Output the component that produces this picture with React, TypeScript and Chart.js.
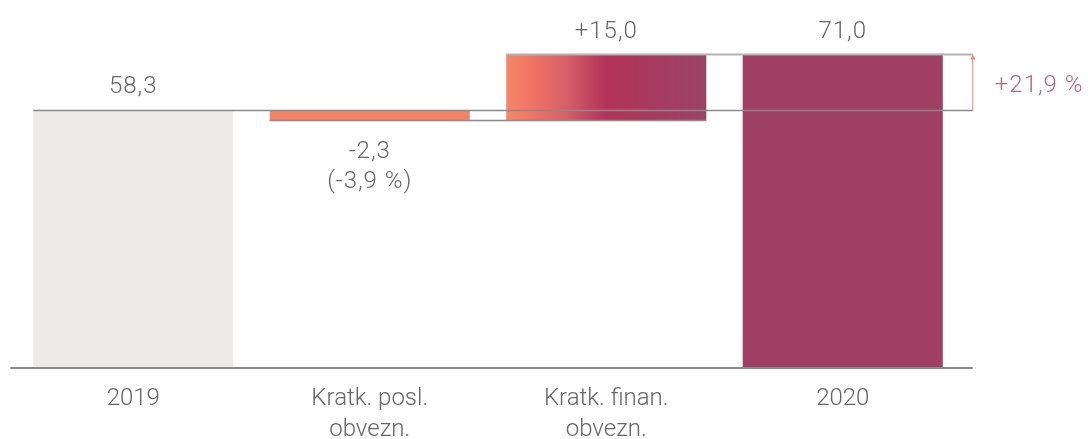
import { useEffect, useRef } from "react";
import { Chart, registerables } from "chart.js";

Chart.register(...registerables);

const categories: string[][] = [["2019"], ["Kratk. posl.", "obvezn."], ["Kratk. finan.", "obvezn."], ["2020"]];
const startValue = 58.3;
const changes = [-2.3, 15.0];
const endValue = 71.0;
const valueLabels: string[][] = [["58,3"], ["-2,3", "(-3,9 %)"], ["+15,0"], ["71,0"]];
const totalChangeLabel = "+21,9 %";
const yMin = 0;
const yMax = 80;

const BAR_PCT = 0.846;
const FAMILY = "Roboto, 'Noto Sans', sans-serif";
const FONT = "300 24px " + FAMILY;
const TEXT = "#666666";

function buildRanges(): [number, number][] {
  const out: [number, number][] = [[0, startValue]];
  let cum = startValue;
  for (const c of changes) {
    out.push([cum, cum + c]);
    cum += c;
  }
  out.push([0, endValue]);
  return out;
}

export default function App() {
  const ref = useRef<HTMLCanvasElement | null>(null);
  useEffect(() => {
    if (!ref.current) return;
    const ranges = buildRanges();
    const colors = ["#edecea", "#f58366", "grad", "#9f3f63"];

    const overlay = {
      id: "overlay",
      afterDatasetsDraw(chart: any) {
        const ctx = chart.ctx as CanvasRenderingContext2D;
        const xs = chart.scales.x;
        const ys = chart.scales.y;
        const meta = chart.getDatasetMeta(0);
        const bars = meta.data as any[];
        const left = (i: number) => bars[i].x - bars[i].width / 2;
        const right = (i: number) => bars[i].x + bars[i].width / 2;
        const n = bars.length;
        const farRight = right(n - 1) + 30;
        const yStart = ys.getPixelForValue(startValue);
        const yEnd = ys.getPixelForValue(endValue);
        ctx.save();
        ctx.strokeStyle = "#8a8a8a";
        ctx.lineWidth = 1.5;
        ctx.beginPath();
        ctx.moveTo(left(0), yStart);
        ctx.lineTo(farRight, yStart);
        ctx.stroke();
        let cum = startValue;
        for (let i = 0; i < changes.length - 1; i++) {
          cum += changes[i];
          const y = ys.getPixelForValue(cum);
          ctx.beginPath();
          ctx.moveTo(left(i + 1), y);
          ctx.lineTo(right(i + 2), y);
          ctx.stroke();
        }
        ctx.strokeStyle = "#b3b3b3";
        ctx.lineWidth = 2;
        ctx.beginPath();
        ctx.moveTo(left(n - 2), yEnd);
        ctx.lineTo(farRight, yEnd);
        ctx.stroke();
        const y0 = ys.getPixelForValue(0) + 1;
        ctx.strokeStyle = "#8a8a8a";
        ctx.lineWidth = 2;
        ctx.beginPath();
        ctx.moveTo(left(0) - 23, y0);
        ctx.lineTo(farRight, y0);
        ctx.stroke();
        ctx.strokeStyle = "#f58466";
        ctx.fillStyle = "#f58466";
        ctx.lineWidth = 1;
        ctx.beginPath();
        ctx.moveTo(farRight, yStart);
        ctx.lineTo(farRight, yEnd + 4);
        ctx.stroke();
        ctx.beginPath();
        ctx.moveTo(farRight, yEnd);
        ctx.lineTo(farRight - 2.5, yEnd + 5);
        ctx.lineTo(farRight + 2.5, yEnd + 5);
        ctx.closePath();
        ctx.fill();

        ctx.font = FONT;
        try { (ctx as any).letterSpacing = "1px"; } catch (e) {}
        ctx.fillStyle = TEXT;
        ctx.textAlign = "center";
        ctx.textBaseline = "alphabetic";
        ranges.forEach((r, i) => {
          const x = xs.getPixelForValue(i);
          const hi = Math.max(r[0], r[1]);
          const lo = Math.min(r[0], r[1]);
          const lines = valueLabels[i];
          const isNeg = i > 0 && i < n - 1 && changes[i - 1] < 0;
          if (isNeg) {
            const yb = ys.getPixelForValue(lo);
            lines.forEach((t, k) => ctx.fillText(t, x, yb + 37 + k * 30));
          } else {
            const yt = ys.getPixelForValue(hi);
            lines.forEach((t, k) => ctx.fillText(t, x, yt - 17 - (lines.length - 1 - k) * 30));
          }
        });
        ctx.fillStyle = "#ad6a85";
        ctx.textAlign = "left";
        ctx.fillText(totalChangeLabel, farRight + 22, (yStart + yEnd) / 2 + 9);
        ctx.restore();
      },
    };

    const chart = new Chart(ref.current, {
      type: "bar",
      data: {
        labels: categories,
        datasets: [
          {
            data: ranges as any,
            backgroundColor: (c: any) => {
              const col = colors[c.dataIndex];
              if (col !== "grad") return col;
              const xs = c.chart.scales.x;
              if (!xs || !xs.width) return "#c04a62";
              const cx = xs.getPixelForValue(c.dataIndex);
              const w = (xs.width / categories.length) * BAR_PCT;
              const g = c.chart.ctx.createLinearGradient(cx - w / 2, 0, cx + w / 2, 0);
              g.addColorStop(0, "#f6876a");
              g.addColorStop(0.12, "#f27463");
              g.addColorStop(0.3, "#d65f68");
              g.addColorStop(0.5, "#b3325b");
              g.addColorStop(0.75, "#a73a5f");
              g.addColorStop(1, "#9b4365");
              return g;
            },
            borderWidth: 0,
            borderSkipped: false,
            categoryPercentage: 1,
            barPercentage: BAR_PCT,
          },
        ],
      },
      options: {
        responsive: false,
        animation: false,
        layout: { padding: { left: 15, right: 127, top: 15, bottom: 0 } },
        plugins: { legend: { display: false }, tooltip: { enabled: false } },
        scales: {
          x: {
            grid: { display: false, drawTicks: false },
            border: { display: false },
            ticks: {
              color: TEXT,
              padding: 16,
              font: { family: FAMILY, size: 24, weight: "300", lineHeight: 1.3 },
              maxRotation: 0,
              autoSkip: false,
            },
            afterFit: (s: any) => {
              s.height = 72;
            },
          },
          y: { display: false, min: yMin, max: yMax },
        },
      },
      plugins: [overlay],
    });
    return () => chart.destroy();
  }, []);
  return (
    <div style={{ position: "absolute", left: 0, top: 0, width: 1088, height: 439 }}>
      <canvas ref={ref} width={1088} height={439} style={{ display: "block" }} />
    </div>
  );
}
